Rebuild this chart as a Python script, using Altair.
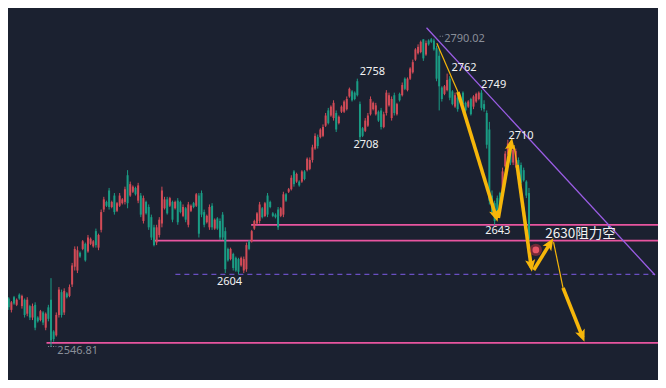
import math
import altair as alt
import pandas as pd

# ---------------- candle data (index order, price) ----------------
opens = [
    2566, 2585, 2576, 2586, 2580, 2588, 2579, 2584, 2573, 2579,
    2570, 2580, 2570, 2568, 2574, 2562, 2578, 2584, 2559, 2556,
    2572, 2590, 2574, 2589, 2587, 2596, 2610, 2607, 2621, 2624,
    2628, 2622, 2628, 2626, 2638, 2625, 2639, 2655, 2661, 2670,
    2657, 2666, 2654, 2658, 2660, 2661, 2682, 2666, 2669, 2672,
    2662, 2666, 2646, 2661, 2657, 2649, 2641, 2629, 2635, 2644,
    2656, 2663, 2658, 2661, 2656, 2662, 2661, 2650, 2656, 2643,
    2654, 2660, 2658, 2666, 2668, 2653, 2645, 2641, 2658, 2640,
    2648, 2646, 2651, 2638, 2624, 2616, 2620, 2617, 2616, 2611,
    2607, 2608, 2630, 2630, 2640, 2644, 2646, 2656, 2650, 2666,
    2661, 2652, 2651, 2655, 2650, 2651, 2667, 2669, 2671, 2685,
    2677, 2677, 2677, 2685, 2686, 2687, 2694, 2703, 2712, 2712,
    2713, 2721, 2733, 2729, 2727, 2731, 2723, 2732, 2732, 2734,
    2744, 2748, 2747, 2756, 2738, 2719, 2717, 2721, 2730, 2734,
    2730, 2732, 2733, 2720, 2731, 2737, 2727, 2745, 2730, 2746,
    2745, 2758, 2749, 2758, 2763, 2773, 2778, 2779, 2789, 2777,
    2788, 2789, 2788, 2782, 2776, 2751, 2746, 2749, 2758, 2748,
    2736, 2743, 2740, 2747, 2739, 2736, 2742, 2736, 2740, 2742,
    2747, 2738, 2731, 2718, 2666, 2660, 2664, 2668, 2668, 2689,
    2699, 2705, 2692, 2690, 2694, 2690, 2686, 2677, 2668,
]
highs = [
    2584, 2586, 2583, 2587, 2585, 2589, 2588, 2585, 2586, 2580,
    2581, 2582, 2571, 2576, 2575, 2574, 2580, 2601, 2560, 2574,
    2594, 2592, 2593, 2590, 2596, 2613, 2626, 2626, 2622, 2631,
    2629, 2635, 2633, 2631, 2640, 2636, 2655, 2665, 2662, 2672,
    2662, 2668, 2661, 2668, 2664, 2673, 2686, 2677, 2674, 2673,
    2676, 2668, 2666, 2662, 2659, 2651, 2643, 2643, 2649, 2673,
    2665, 2665, 2665, 2662, 2662, 2664, 2662, 2659, 2657, 2661,
    2659, 2661, 2668, 2668, 2670, 2655, 2651, 2659, 2660, 2648,
    2649, 2648, 2653, 2641, 2625, 2625, 2621, 2618, 2617, 2618,
    2618, 2629, 2631, 2639, 2647, 2653, 2661, 2657, 2661, 2668,
    2662, 2653, 2652, 2657, 2657, 2669, 2668, 2672, 2682, 2686,
    2684, 2678, 2686, 2686, 2696, 2696, 2706, 2715, 2714, 2719,
    2722, 2731, 2735, 2737, 2741, 2733, 2729, 2737, 2741, 2744,
    2751, 2749, 2748, 2758, 2740, 2720, 2727, 2731, 2744, 2740,
    2739, 2733, 2735, 2732, 2749, 2747, 2744, 2747, 2739, 2747,
    2755, 2759, 2759, 2767, 2773, 2782, 2785, 2788, 2789, 2788,
    2789, 2790.02, 2789.5, 2784, 2781, 2752, 2753, 2762, 2760, 2749,
    2747, 2744, 2745, 2748, 2740, 2741, 2743, 2745, 2747, 2748,
    2749, 2741, 2733, 2724, 2670, 2662, 2666, 2669, 2688, 2701,
    2710, 2706, 2704, 2703, 2696, 2692, 2688, 2678, 2672,
]
lows = [
    2564, 2576, 2574, 2580, 2579, 2584, 2577, 2570, 2571, 2568,
    2568, 2560, 2566, 2567, 2564, 2560, 2567, 2546.81, 2551, 2555,
    2570, 2570, 2572, 2585, 2586, 2594, 2607, 2605, 2617, 2623,
    2614, 2621, 2627, 2625, 2625, 2623, 2637, 2653, 2657, 2655,
    2656, 2651, 2653, 2657, 2659, 2659, 2656, 2665, 2668, 2666,
    2660, 2649, 2644, 2651, 2639, 2631, 2626, 2627, 2633, 2641,
    2655, 2651, 2657, 2645, 2655, 2643, 2652, 2649, 2645, 2641,
    2653, 2656, 2657, 2633, 2649, 2641, 2644, 2639, 2639, 2639,
    2639, 2631, 2631, 2605, 2614, 2615, 2607, 2606, 2604, 2610,
    2605, 2606, 2623, 2629, 2639, 2643, 2644, 2648, 2649, 2649,
    2656, 2649, 2648, 2639, 2649, 2649, 2661, 2668, 2670, 2673,
    2676, 2673, 2676, 2678, 2685, 2686, 2692, 2702, 2703, 2711,
    2712, 2720, 2722, 2728, 2725, 2716, 2722, 2731, 2731, 2733,
    2743, 2740, 2741, 2744, 2708, 2712, 2716, 2720, 2729, 2733,
    2729, 2724, 2718, 2719, 2729, 2736, 2725, 2729, 2729, 2740,
    2744, 2749, 2748, 2757, 2762, 2772, 2777, 2778, 2772, 2776,
    2784, 2786, 2780, 2756, 2733, 2740, 2745, 2748, 2741, 2737,
    2735, 2732, 2739, 2737, 2732, 2735, 2729, 2734, 2739, 2741,
    2733, 2732, 2703, 2659, 2651, 2643, 2651, 2656, 2666, 2688,
    2698, 2690, 2690, 2688, 2682, 2674, 2677, 2664, 2630,
]
closes = [
    2582, 2578, 2582, 2581, 2584, 2585, 2587, 2572, 2584, 2570,
    2579, 2562, 2567, 2575, 2566, 2573, 2569, 2552, 2553, 2572,
    2592, 2572, 2591, 2586, 2594, 2611, 2624, 2623, 2618, 2630,
    2615, 2633, 2632, 2630, 2627, 2635, 2653, 2663, 2658, 2657,
    2661, 2653, 2660, 2666, 2663, 2671, 2660, 2675, 2673, 2667,
    2674, 2651, 2664, 2652, 2641, 2633, 2627, 2641, 2647, 2670,
    2663, 2652, 2664, 2647, 2661, 2645, 2653, 2657, 2647, 2659,
    2658, 2657, 2667, 2636, 2651, 2643, 2650, 2657, 2641, 2647,
    2640, 2633, 2633, 2608, 2615, 2624, 2609, 2607, 2606, 2617,
    2616, 2627, 2624, 2638, 2646, 2652, 2659, 2649, 2660, 2651,
    2657, 2650, 2649, 2641, 2656, 2667, 2662, 2671, 2680, 2675,
    2683, 2674, 2685, 2679, 2695, 2694, 2704, 2713, 2705, 2718,
    2720, 2729, 2723, 2736, 2739, 2718, 2728, 2736, 2740, 2742,
    2750, 2741, 2742, 2745, 2712, 2713, 2725, 2729, 2742, 2739,
    2737, 2725, 2720, 2730, 2747, 2745, 2742, 2731, 2738, 2741,
    2753, 2750, 2758, 2766, 2771, 2781, 2783, 2787, 2774, 2786,
    2785, 2787, 2781, 2758, 2752, 2742, 2752, 2757, 2743, 2738,
    2745, 2734, 2744, 2738, 2733, 2740, 2730, 2744, 2746, 2747,
    2735, 2734, 2706, 2662, 2653, 2646, 2652, 2658, 2685, 2699,
    2707, 2692, 2702, 2701, 2684, 2676, 2678, 2666, 2632,
]

# ---------------- annotation values ----------------
level_prices = [2643, 2630.5, 2550]          # pink horizontal lines
level_starts = [92.8, 55.6, 15.3]
level_end = 248.0
dashed_price = 2604
dashed_from, dashed_to = 64.1, 245.7
trend_i = [159.2, 245.7]
trend_p = [2798.1, 2603.5]

label_texts = ["2758", "2708", "2604", "2643", "2762", "2749", "2710"]
label_i = [138.7, 136.3, 84.6, 186.2, 173.4, 184.6, 195.0]
label_p = [2763.3, 2706.0, 2598.2, 2638.4, 2766.6, 2753.0, 2712.9]

extreme_texts = ["2790.02", "2546.81"]
extreme_i = [165.9, 19.4]
extreme_p = [2789.2, 2543.7]
leader_from = [164.2, 15.9]
leader_to = [165.5, 19.0]
leader_p = [2791.4, 2547.2]

call_text = "2630阻力空"
call_i, call_p = 204.2, 2635.5

thin_from_i = [163.1, 192.3, 207.3]
thin_from_p = [2785.8, 2705.8, 2629.4]
thin_to_i = [171.1, 193.5, 210.9]
thin_to_p = [2747.5, 2690.0, 2593.3]
arrow_start_i = [171.1, 186.4, 193.5, 199.8, 210.9]
arrow_start_p = [2747.5, 2648.3, 2690.0, 2607.4, 2593.3]
arrow_tip_i = [186.1, 191.6, 199.1, 207.2, 219.0]
arrow_tip_p = [2645.4, 2711.3, 2606.1, 2632.4, 2551.0]

dot_i, dot_p = 200.6, 2623.2

# ---------------- styling ----------------
BG = "#1b2130"
RED = "#d24b57"
GREEN = "#1a9c84"
PINK = "#e8559f"
YEL = "#f6b60a"
PURP = "#9b5de5"
DASH = "#6a4fc2"
GRAY = "#8a8f99"
WHITE = "#f2f2f2"

W, H = 650, 372
PX_I = 2.682      # pixels per candle step
PX_P = 1.2705     # pixels per price unit
XD = [2.61, 2.61 + W / PX_I]
YD = [2813.63 - H / PX_P, 2813.63]
px_i = W / (XD[1] - XD[0])
px_p = H / (YD[1] - YD[0])
xs = alt.Scale(domain=XD, nice=False, zero=False)
ys = alt.Scale(domain=YD, nice=False, zero=False)


def X(f):
    return alt.X(f, type="quantitative", scale=xs, axis=None)


def Y(f):
    return alt.Y(f, type="quantitative", scale=ys, axis=None)


cdf = pd.DataFrame({"i": list(range(len(opens))), "o": opens, "h": highs, "l": lows, "c": closes})
cdf["dir"] = ["up" if c >= o else "down" for o, c in zip(cdf["o"], cdf["c"])]
col = alt.Color("dir:N", scale=alt.Scale(domain=["up", "down"], range=[RED, GREEN]), legend=None)

wicks = alt.Chart(cdf).mark_rule(strokeWidth=1, clip=True).encode(x=X("i"), y=Y("l"), y2=alt.Y2("h"), color=col)
bodies = alt.Chart(cdf).mark_bar(size=2, strokeWidth=0, clip=True).encode(
    x=X("i"), y=Y("o"), y2=alt.Y2("c"), color=col)

ldf = pd.DataFrame({"p": level_prices, "x0": level_starts, "x1": [level_end] * len(level_prices)})
levels = alt.Chart(ldf).mark_rule(color=PINK, strokeWidth=1.7, clip=True).encode(
    x=X("x0"), x2=alt.X2("x1"), y=Y("p"))

ddf = pd.DataFrame({"p": [dashed_price], "x0": [dashed_from], "x1": [dashed_to]})
dashed = alt.Chart(ddf).mark_rule(color=DASH, strokeWidth=1.2, strokeDash=[5, 4], clip=True).encode(
    x=X("x0"), x2=alt.X2("x1"), y=Y("p"))

tdf = pd.DataFrame({"x0": [trend_i[0]], "x1": [trend_i[1]], "p0": [trend_p[0]], "p1": [trend_p[1]]})
trend = alt.Chart(tdf).mark_rule(color=PURP, strokeWidth=1.3, clip=True).encode(
    x=X("x0"), x2=alt.X2("x1"), y=Y("p0"), y2=alt.Y2("p1"))

thdf = pd.DataFrame({"x0": thin_from_i, "x1": thin_to_i, "p0": thin_from_p, "p1": thin_to_p})
thin = alt.Chart(thdf).mark_rule(color=YEL, strokeWidth=1.2).encode(
    x=X("x0"), x2=alt.X2("x1"), y=Y("p0"), y2=alt.Y2("p1"))

HEAD_SIZE = 170
half = math.sqrt(HEAD_SIZE) / 2
rows = []
for si, sp, ti, tp in zip(arrow_start_i, arrow_start_p, arrow_tip_i, arrow_tip_p):
    dx = (ti - si) * px_i
    dy = -(tp - sp) * px_p
    L = math.hypot(dx, dy)
    ux, uy = dx / L, dy / L
    ang = math.degrees(math.atan2(ux, -uy)) % 360
    ci = ti - ux * half / px_i
    cp = tp + uy * half / px_p
    rows.append({"x0": si, "p0": sp, "x1": ci + ux * 2 / px_i, "p1": cp - uy * 2 / px_p,
                 "hi": ci, "hp": cp, "ang": ang})
adf = pd.DataFrame(rows)
thick = alt.Chart(adf).mark_rule(color=YEL, strokeWidth=3.6, strokeCap="butt").encode(
    x=X("x0"), x2=alt.X2("x1"), y=Y("p0"), y2=alt.Y2("p1"))
heads = alt.Chart(adf).mark_point(
    shape="M0,-1L0.78,0.85L0,0.45L-0.78,0.85Z", filled=True, color=YEL, opacity=1,
    size=HEAD_SIZE, strokeWidth=0).encode(x=X("hi"), y=Y("hp"), angle=alt.Angle("ang:Q", scale=None))

dotdf = pd.DataFrame({"i": [dot_i], "p": [dot_p]})
glow = alt.Chart(dotdf).mark_circle(color="#b8323f", opacity=0.55, size=150).encode(x=X("i"), y=Y("p"))
dot = alt.Chart(dotdf).mark_circle(color="#e65566", opacity=1, size=45).encode(x=X("i"), y=Y("p"))

labdf = pd.DataFrame({"t": label_texts, "i": label_i, "p": label_p})
labels = alt.Chart(labdf).mark_text(color=WHITE, fontSize=11, font="Noto Sans").encode(
    x=X("i"), y=Y("p"), text="t:N")

exdf = pd.DataFrame({"t": extreme_texts, "i": extreme_i, "p": extreme_p,
                     "a": leader_from, "b": leader_to, "q": leader_p})
extremes = alt.Chart(exdf).mark_text(color=GRAY, fontSize=11, font="Noto Sans", align="left").encode(
    x=X("i"), y=Y("p"), text="t:N")
leaders = alt.Chart(exdf).mark_rule(color=GRAY, strokeWidth=1, strokeDash=[1, 1.5]).encode(
    x=X("a"), x2=alt.X2("b"), y=Y("q"))

calldf = pd.DataFrame({"t": [call_text], "i": [call_i], "p": [call_p]})
call = alt.Chart(calldf).mark_text(color=WHITE, fontSize=13.5, font="Noto Sans CJK SC", align="left").encode(
    x=X("i"), y=Y("p"), text="t:N")

chart = alt.layer(
    levels, dashed, wicks, bodies, trend, thin, thick, heads, glow, dot,
    labels, extremes, leaders, call,
).properties(width=W, height=H, background=BG, padding=0, autosize="none").configure_view(strokeWidth=0)

chart.save("out.html", embed_options={"renderer": "svg", "actions": False})
